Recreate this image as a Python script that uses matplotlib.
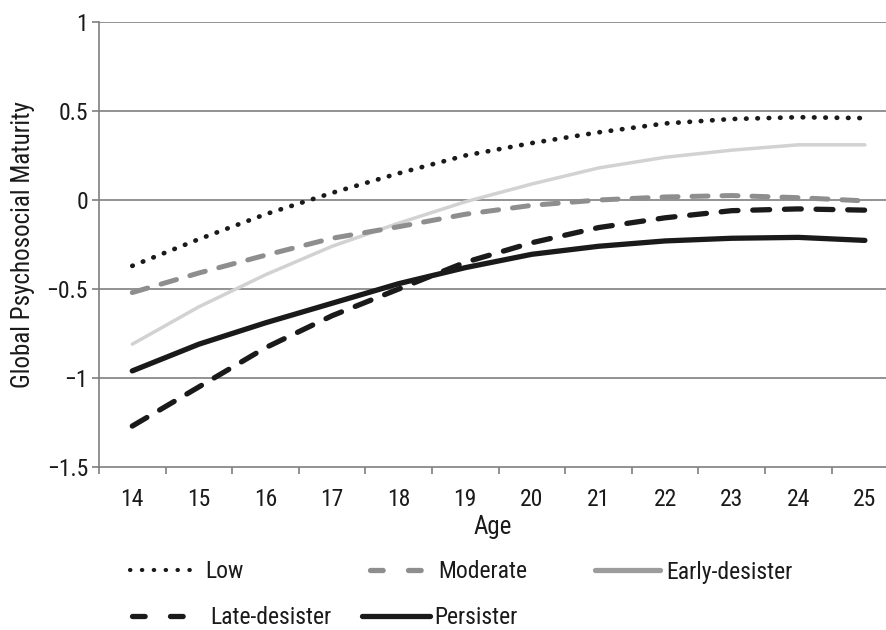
import matplotlib
matplotlib.use("Agg")
import matplotlib.pyplot as plt
from matplotlib.lines import Line2D
from matplotlib.ticker import FixedLocator

plt.rcParams['font.family'] = ['Roboto Condensed', 'DejaVu Sans']

ages = [14, 15, 16, 17, 18, 19, 20, 21, 22, 23, 24, 25]
low = [-0.37, -0.22, -0.08, 0.04, 0.15, 0.25, 0.32, 0.38, 0.43, 0.455, 0.465, 0.46]
moderate = [-0.52, -0.41, -0.31, -0.215, -0.15, -0.08, -0.03, 0.0, 0.017, 0.025, 0.013, -0.005]
early_desister = [-0.81, -0.60, -0.42, -0.26, -0.13, -0.01, 0.09, 0.18, 0.24, 0.28, 0.31, 0.31]
late_desister = [-1.27, -1.05, -0.83, -0.65, -0.50, -0.35, -0.24, -0.155, -0.10, -0.06, -0.05, -0.057]
persister = [-0.96, -0.81, -0.69, -0.58, -0.47, -0.38, -0.305, -0.26, -0.23, -0.215, -0.21, -0.227]

y_ticks = [-1.5, -1, -0.5, 0, 0.5, 1]
y_ticklabels = ['\u22121.5', '\u22121', '\u22120.5', '0', '0.5', '1']

W, H = 887, 630
fig = plt.figure(figsize=(W / 100, H / 100), dpi=100)
ax = fig.add_axes([99 / W, (630 - 467) / H, (887 - 99) / W, (467 - 22) / H])

grid_c = '#7f7f7f'
txt_c = '#1a1a1a'
for yv in y_ticks[1:]:
    ax.axhline(yv, color=grid_c, lw=1.2, zorder=1)

ax.plot(ages, early_desister, color='#d2d2d2', lw=2.5, solid_capstyle='round', zorder=2)
ax.plot(ages, persister, color=txt_c, lw=3.8, solid_capstyle='round', zorder=3)
ax.plot(ages, late_desister, color=txt_c, lw=3.8, dashes=(3.2, 2.8), dash_capstyle='round', zorder=4)
ax.plot(ages, moderate, color='#8e8e8e', lw=3.6, dashes=(3.2, 2.8), dash_capstyle='round', zorder=4)
ax.plot(ages, low, color=txt_c, lw=3.4, dashes=(0.1, 2.3), dash_capstyle='round', zorder=5)

ax.set_xlim(13.5, 13.5 + (887 - 99) / 66.6)
ax.set_ylim(-1.5, 1)

for s in ['top', 'right']:
    ax.spines[s].set_visible(False)
for s in ['left', 'bottom']:
    ax.spines[s].set_color(grid_c)
    ax.spines[s].set_linewidth(1.2)

ax.set_yticks(y_ticks)
ax.set_yticklabels(y_ticklabels)
ax.set_xticks(ages)
ax.set_xticklabels([str(a) for a in ages])
ax.xaxis.set_minor_locator(FixedLocator([a - 0.5 for a in ages]))
ax.tick_params(axis='x', which='major', length=0, pad=15, labelsize=17, labelcolor=txt_c)
ax.tick_params(axis='x', which='minor', length=5, width=1.2, color=grid_c, direction='out')
ax.tick_params(axis='y', length=5, width=1.2, color=grid_c, pad=3, labelsize=17, labelcolor=txt_c)

ax.set_xlabel('Age', fontsize=18, color=txt_c, labelpad=3)
ax.set_ylabel('Global Psychosocial Maturity', fontsize=18, color=txt_c, labelpad=8)

fs = 17
entries = [
    ('Low', Line2D([], [], color=txt_c, lw=3.0, dashes=(0.1, 2.75), dash_capstyle='round'), 130, 572, 2.9, 0.3),
    ('Moderate', Line2D([], [], color='#8e8e8e', lw=3.8, dashes=(2.4, 4.8), dash_capstyle='round'), 370, 572, 2.5, 0.4),
    ('Early-desister', Line2D([], [], color='#9c9c9c', lw=3.8, solid_capstyle='round'), 595, 572, 2.75, 0.25),
    ('Late-desister', Line2D([], [], color=txt_c, lw=3.8, dashes=(2.4, 4.8), dash_capstyle='round'), 132, 618, 2.4, 0.9),
    ('Persister', Line2D([], [], color=txt_c, lw=3.8, solid_capstyle='round'), 362, 618, 2.9, 0.15),
]
for label, h, x, y, hl, pad in entries:
    leg = fig.legend([h], [label], loc='center left', bbox_to_anchor=(x / W, 1 - y / H),
                     frameon=False, fontsize=fs, handlelength=hl, handletextpad=pad,
                     borderaxespad=0, borderpad=0)
    for t in leg.get_texts():
        t.set_color(txt_c)

fig.savefig('out.png', dpi=100)
